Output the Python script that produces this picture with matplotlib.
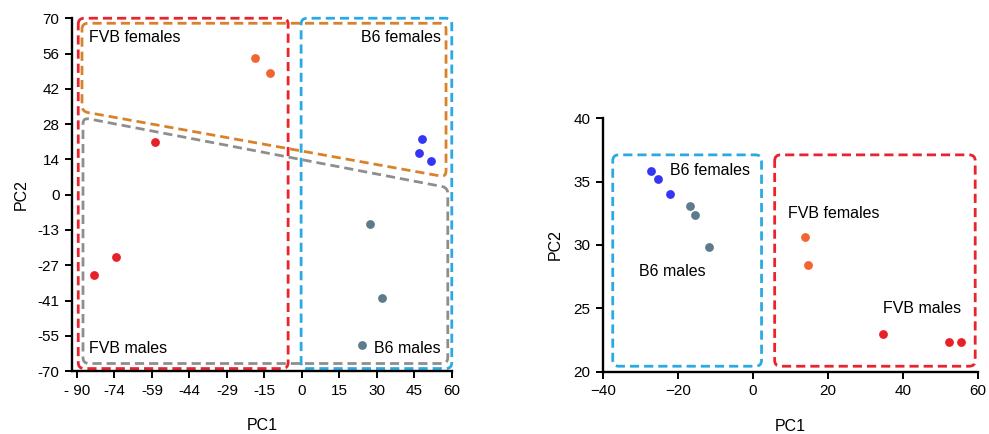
import numpy as np
import matplotlib
matplotlib.use('Agg')
import matplotlib.pyplot as plt
from matplotlib.path import Path
from matplotlib.patches import PathPatch

plt.rcParams['font.family'] = ['Liberation Sans', 'DejaVu Sans']
plt.rcParams['font.size'] = 11

# left panel: PCA all samples
fvb_f_x = [-18.9, -12.8]
fvb_f_y = [54.1, 48.3]
fvb_m_x = [-58.7, -74.3, -83.3]
fvb_m_y = [21.0, -24.9, -31.9]
b6_f_x = [48.1, 46.9, 51.6]
b6_f_y = [22.0, 16.7, 13.5]
b6_m_x = [27.1, 31.9, 24.1]
b6_m_y = [-11.5, -40.9, -59.8]

left_xticks = [-90, -75, -60, -45, -30, -15, 0, 15, 30, 45, 60]
left_xlabels = ['- 90', '-74', '-59', '-44', '-29', '-15', '0', '15', '30', '45', '60']
left_yticks = [70, 56, 42, 28, 14, 0, -14, -28, -42, -56, -70]
left_ylabels = ['70', '56', '42', '28', '14', '0', '-13', '-27', '-41', '-55', '-70']

# right panel
r_b6_f_x = [-27.1, -25.3, -22.0]
r_b6_f_y = [35.84, 35.16, 34.03]
r_b6_m_x = [-16.8, -15.4, -11.6]
r_b6_m_y = [33.08, 32.34, 29.82]
r_fvb_f_x = [14.0, 14.7]
r_fvb_f_y = [30.66, 28.45]
r_fvb_m_x = [34.7, 52.3, 55.4]
r_fvb_m_y = [22.97, 22.34, 22.34]

RED = '#e8202a'
ORANGE = '#f26530'
BLUE = '#3535f5'
GRAY = '#5d7b8a'
BOX_RED = '#e8242c'
BOX_CYAN = '#2aaae2'
BOX_ORANGE = '#d9822b'
BOX_GRAY = '#8e8e8e'


def rounded_path(ax, pts, r):
    # corners rounded in pixel space so they look round on screen
    disp = ax.transData.transform(np.array(pts, dtype=float))
    n = len(disp)
    verts, codes = [], []
    for i in range(n):
        p0, p1, p2 = disp[i - 1], disp[i], disp[(i + 1) % n]
        d1 = (p0 - p1) / np.linalg.norm(p0 - p1)
        d2 = (p2 - p1) / np.linalg.norm(p2 - p1)
        a = p1 + d1 * r
        b = p1 + d2 * r
        if i == 0:
            first = a
            codes.append(Path.MOVETO)
        else:
            codes.append(Path.LINETO)
        verts.append(a)
        verts += [p1, b]
        codes += [Path.CURVE3, Path.CURVE3]
    verts.append(first)
    codes.append(Path.LINETO)
    verts.append(first)
    codes.append(Path.CLOSEPOLY)
    data = ax.transData.inverted().transform(np.array(verts))
    return Path(data, codes)


def dashed_shape(ax, pts, color, r=6):
    patch = PathPatch(rounded_path(ax, pts, r), fill=False, edgecolor=color,
                      linewidth=2.0, linestyle=(0, (3.3, 1.8)), clip_on=False, zorder=2)
    ax.add_patch(patch)


def style_axes(ax):
    ax.spines['top'].set_visible(False)
    ax.spines['right'].set_visible(False)
    ax.spines['left'].set_linewidth(1.7)
    ax.spines['bottom'].set_linewidth(1.7)
    ax.tick_params(direction='out', length=5, width=1.4, labelsize=11, colors='black', pad=4)


fig = plt.figure(figsize=(9.89, 4.34), dpi=100)

ax1 = fig.add_axes([0.0728, 0.145, 0.384, 0.813])
ax1.set_xlim(-92, 60)
ax1.set_ylim(-70, 70)
style_axes(ax1)
ax1.set_xticks(left_xticks)
ax1.set_xticklabels(left_xlabels)
ax1.set_yticks(left_yticks)
ax1.set_yticklabels(left_ylabels)
ax1.set_xlabel('PC1', fontsize=11.5, labelpad=15)
ax1.set_ylabel('PC2', fontsize=11.5, labelpad=6)

dashed_shape(ax1, [(-89.5, 70), (-5.5, 70), (-5.5, -69), (-89.5, -69)], BOX_RED)
dashed_shape(ax1, [(-0.3, 70), (60, 70), (60, -69), (-0.3, -69)], BOX_CYAN)
dashed_shape(ax1, [(-88, 68), (57.7, 68), (57.7, 7), (-88, 33)], BOX_ORANGE)
dashed_shape(ax1, [(-87.6, 30.5), (58.4, 2.8), (58.4, -67), (-87.6, -67)], BOX_GRAY)

ax1.scatter(fvb_f_x, fvb_f_y, s=40, color=ORANGE, zorder=3, linewidths=0)
ax1.scatter(fvb_m_x, fvb_m_y, s=40, color=RED, zorder=3, linewidths=0)
ax1.scatter(b6_f_x, b6_f_y, s=40, color=BLUE, zorder=3, linewidths=0)
ax1.scatter(b6_m_x, b6_m_y, s=40, color=GRAY, zorder=3, linewidths=0)

ax1.text(-85, 62.5, 'FVB females', ha='left', va='center', fontsize=11.5)
ax1.text(55.7, 62.5, 'B6 females', ha='right', va='center', fontsize=11.5)
ax1.text(-85, -61, 'FVB males', ha='left', va='center', fontsize=11.5)
ax1.text(55.7, -61, 'B6 males', ha='right', va='center', fontsize=11.5)

ax2 = fig.add_axes([0.6097, 0.143, 0.379, 0.585])
ax2.set_xlim(-40, 60)
ax2.set_ylim(20, 40)
style_axes(ax2)
ax2.set_xticks([-40, -20, 0, 20, 40, 60])
ax2.set_yticks([20, 25, 30, 35, 40])
ax2.set_xlabel('PC1', fontsize=11.5, labelpad=15)
ax2.set_ylabel('PC2', fontsize=11.5, labelpad=8)

dashed_shape(ax2, [(-37.4, 37.1), (2.3, 37.1), (2.3, 20.45), (-37.4, 20.45)], BOX_CYAN)
dashed_shape(ax2, [(5.8, 37.1), (59.3, 37.1), (59.3, 20.45), (5.8, 20.45)], BOX_RED)

ax2.scatter(r_b6_f_x, r_b6_f_y, s=40, color=BLUE, zorder=3, linewidths=0)
ax2.scatter(r_b6_m_x, r_b6_m_y, s=40, color=GRAY, zorder=3, linewidths=0)
ax2.scatter(r_fvb_f_x, r_fvb_f_y, s=40, color=ORANGE, zorder=3, linewidths=0)
ax2.scatter(r_fvb_m_x, r_fvb_m_y, s=40, color=RED, zorder=3, linewidths=0)

ax2.text(-22.2, 35.9, 'B6 females', ha='left', va='center', fontsize=11.5)
ax2.text(-30.5, 27.9, 'B6 males', ha='left', va='center', fontsize=11.5)
ax2.text(9.3, 32.5, 'FVB females', ha='left', va='center', fontsize=11.5)
ax2.text(34.8, 25.0, 'FVB males', ha='left', va='center', fontsize=11.5)

fig.savefig('out.png', dpi=100)
